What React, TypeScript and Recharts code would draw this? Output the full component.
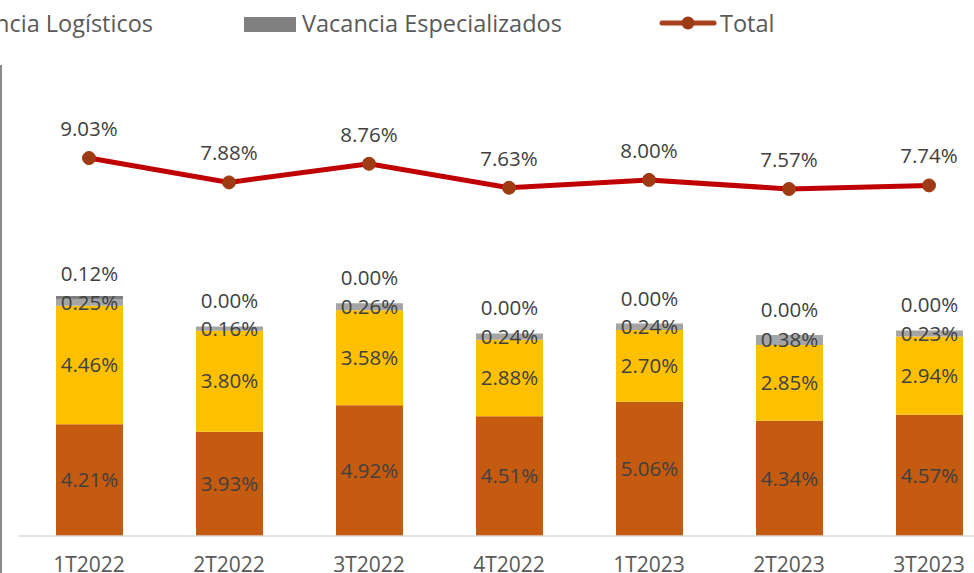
import { ComposedChart, Bar, Line, XAxis, YAxis, LabelList } from "recharts";

const periods = ["1T2022", "2T2022", "3T2022", "4T2022", "1T2023", "2T2023", "3T2023"];
const industriales = [4.21, 3.93, 4.92, 4.51, 5.06, 4.34, 4.57];
const bodegas = [4.46, 3.8, 3.58, 2.88, 2.7, 2.85, 2.94];
const logisticos = [0.25, 0.16, 0.26, 0.24, 0.24, 0.38, 0.23];
const especializados = [0.12, 0, 0, 0, 0, 0, 0];
const total = [9.03, 7.88, 8.76, 7.63, 8.0, 7.57, 7.74];

const data = periods.map((p, i) => ({
  period: p,
  industriales: industriales[i],
  bodegas: bodegas[i],
  logisticos: logisticos[i],
  especializados: especializados[i],
  total: total[i],
}));

const FONT = "'Open Sans', sans-serif";
const pct = (v: any) => `${Number(v).toFixed(2)}%`;
const labelStyle = { fontFamily: FONT, fontSize: 20.5, fill: "#404040" };

const LegendRow = () => (
  <svg width={974} height={50} style={{ position: "absolute", left: 0, top: 0 }}>
    <g fontFamily={FONT} fontSize={23.5} fill="#595959">
      <text x={153} y={32} textAnchor="end">Vacancia Logísticos</text>
      <rect x={244} y={17} width={52} height={15} fill="#808080" />
      <text x={302} y={32}>Vacancia Especializados</text>
      <line x1={662} y1={23} x2={714} y2={23} stroke="#A8401C" strokeWidth={5} strokeLinecap="round" />
      <circle cx={688} cy={23} r={6.5} fill="#9E3A14" />
      <text x={720} y={32}>Total</text>
    </g>
  </svg>
);

export default function App() {
  return (
    <div style={{ position: "absolute", left: 0, top: 0, width: 974, height: 573, overflow: "hidden", background: "#fff" }}>
      <div style={{ position: "absolute", left: 0, top: 65, width: 2, height: 508, background: "#8a8a8a" }} />
      <LegendRow />
      <div style={{ position: "absolute", left: 0, top: 0 }}>
        <ComposedChart width={1020} height={573} data={data} margin={{ top: 58, right: 21, left: 19, bottom: 7 }}>
          <XAxis
            dataKey="period"
            height={30}
            axisLine={{ stroke: "#D9D9D9", strokeWidth: 1.5 }}
            tickLine={false}
            tickSize={0}
            tickMargin={21}
            tick={{ fontFamily: FONT, fontSize: 21, fill: "#595959" }}
          />
          <YAxis yAxisId="left" hide domain={[0, 18]} />
          <YAxis yAxisId="right" hide domain={[-8.8, 13.75]} />
          <Bar dataKey="industriales" stackId="a" yAxisId="left" fill="#C55A11" barSize={67} isAnimationActive={false}>
            <LabelList dataKey="industriales" position="center" formatter={pct} style={labelStyle} />
          </Bar>
          <Bar dataKey="bodegas" stackId="a" yAxisId="left" fill="#FFC000" barSize={67} isAnimationActive={false}>
            <LabelList dataKey="bodegas" position="center" formatter={pct} style={labelStyle} />
          </Bar>
          <Bar dataKey="logisticos" stackId="a" yAxisId="left" fill="#A5A5A5" barSize={67} isAnimationActive={false}>
            <LabelList dataKey="logisticos" position="center" formatter={pct} style={labelStyle} />
            {/* especializados values sit above the stack, zero ones included */}
            <LabelList dataKey="especializados" position="top" offset={18} formatter={pct} style={labelStyle} />
          </Bar>
          <Bar dataKey="especializados" stackId="a" yAxisId="left" fill="#7F7F7F" barSize={67} isAnimationActive={false} />
          <Line
            dataKey="total"
            yAxisId="right"
            stroke="#C00000"
            strokeWidth={5}
            dot={{ r: 6.5, fill: "#9E3A14", stroke: "#9E3A14", strokeWidth: 1 }}
            activeDot={false}
            isAnimationActive={false}
          >
            <LabelList dataKey="total" position="top" offset={22} formatter={pct} style={labelStyle} />
          </Line>
        </ComposedChart>
      </div>
    </div>
  );
}
